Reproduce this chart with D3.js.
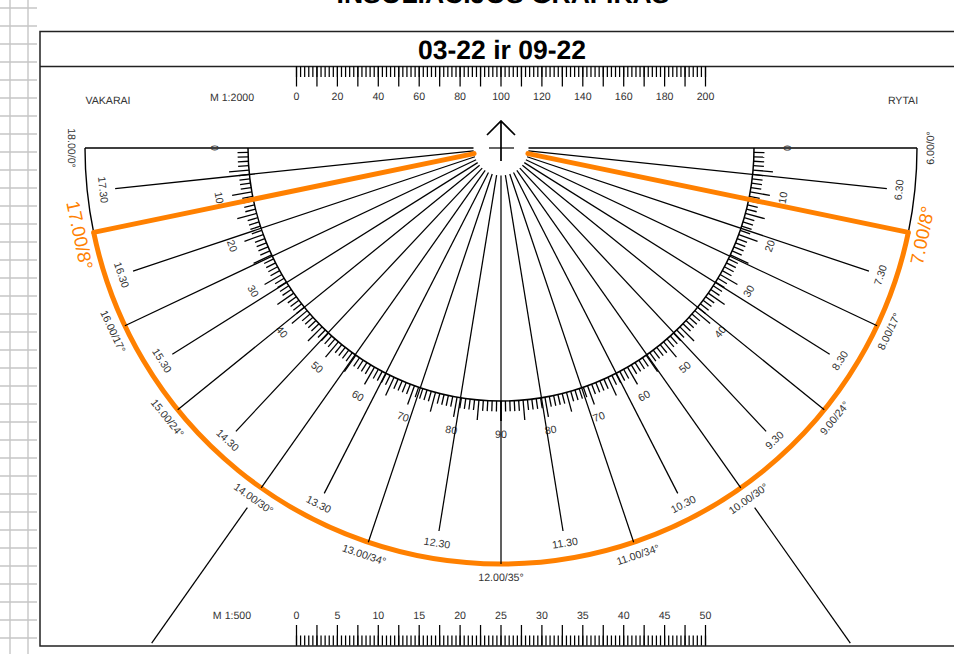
<!DOCTYPE html>
<html><head><meta charset="utf-8">
<script src="https://cdn.jsdelivr.net/npm/d3@7"></script>
<style>
html,body{margin:0;padding:0;background:#fff;overflow:hidden}
svg{display:block}
text{font-family:"Liberation Sans",Arial,sans-serif;text-rendering:geometricPrecision}
</style></head><body>
<svg id="c" width="954" height="654"></svg>
<script>
// Sun positions: clock label, bearing on the dial (deg from east, clockwise), altitude
const hourTimes  = ["6.00","7.00","8.00","9.00","10.00","11.00","12.00","13.00","14.00","15.00","16.00","17.00","18.00"];
const hourBearing= [0,11.7,25.3,39,54.8,71.4,90,108.6,125.2,141,154.7,168.3,180];
const hourAlt    = [0,8,17,24,30,34,35,34,30,24,17,8,0];
const halfTimes  = ["6.30","7.30","8.30","9.30","10.30","11.30","12.30","13.30","14.30","15.30","16.30","17.30"];
const halfBearing= [6,18.5,32.1,46.9,62.9,80.8,99.2,117.1,133.1,147.9,161.5,174];
const highlightTimes = ["7.00","17.00"];
const brokenTimes = ["10.00","14.00"];
const degreeLabels = [0,10,20,30,40,50,60,70,80,90];
const topScaleLabels = [0,20,40,60,80,100,120,140,160,180,200];
const bottomScaleLabels = [0,5,10,15,20,25,30,35,40,45,50];
const titleText = "INSOLIACIJOS GRAFIKAS";
const subtitleText = "03-22 ir 09-22";

const W=954,H=654,cx=501,cy=148;
const R={hole:27.5,inner:253,minor:263.5,major:273,deg:286,half:388,halfText:400,hourText:429,outer:416,brokenStart:440,brokenEnd:606};
const ORANGE="#ff8000",INK="#000",TXT="#333";
const FS=10.6;
const svg=d3.select("#c");
const angle=d3.scaleLinear().domain([0,180]).range([0,Math.PI]);
const px=(a,r)=>cx+r*Math.cos(angle(a));
const py=(a,r)=>cy+r*Math.sin(angle(a));
const textRot=a=> a<=90 ? a-90 : a+90-180; // mirror about the vertical axis

// side grid paper
const gridY=d3.scaleLinear().domain([0,35]).range([8,638]);
const g0=svg.append("g").attr("stroke","#c6c6c6").attr("stroke-width",1.4);
g0.selectAll("line.h").data(d3.range(0,36)).join("line").attr("x1",0).attr("x2",37).attr("y1",d=>gridY(d)).attr("y2",d=>gridY(d));
g0.selectAll("line.v").data([10,28]).join("line").attr("x1",d=>d).attr("x2",d=>d).attr("y1",0).attr("y2",H);

// frame
const f=svg.append("g").attr("stroke","#222").attr("fill","none");
f.append("path").attr("stroke-width",1.5).attr("d",`M${W},31.5H40V646H${W}`);
f.append("path").attr("stroke-width",1.3).attr("d",`M40,66.5H${W}`);

svg.append("text").attr("x",503).attr("y",3).attr("text-anchor","middle").attr("font-size",26.5).attr("font-weight","bold").text(titleText);
svg.append("text").attr("x",502).attr("y",59).attr("text-anchor","middle").attr("font-size",26.5).attr("font-weight","bold").text(subtitleText);

// rulers
const xTop=d3.scaleLinear().domain([0,200]).range([296,705]);
const xBot=d3.scaleLinear().domain([0,50]).range([296,705]);
function ruler(axisFn,scale,y,step,minorStep,lenMajor,lenMinor,labels){
  const gM=svg.append("g").attr("transform",`translate(0,${y})`)
    .call(axisFn(scale).tickValues(d3.range(scale.domain()[0],scale.domain()[1]+1e-6,minorStep)).tickSize(lenMinor).tickSizeOuter(0).tickFormat(""));
  const gL=svg.append("g").attr("transform",`translate(0,${y})`)
    .call(axisFn(scale).tickValues(d3.range(scale.domain()[0],scale.domain()[1]+1e-6,step)).tickSize(lenMajor).tickSizeOuter(0).tickPadding(6)
      .tickFormat(d=>labels.includes(d)?d:""));
  [gM,gL].forEach(g=>{g.select(".domain").remove();
    g.selectAll("line").attr("stroke",INK).attr("stroke-width",1.25);
    g.selectAll("text").attr("font-family",'"Liberation Sans",Arial,sans-serif').attr("font-size",FS).attr("fill",TXT);});
}
ruler(d3.axisBottom,xTop,66.5,10,2,20,10.5,topScaleLabels);
ruler(d3.axisTop,xBot,645.5,2.5,0.5,20.5,10,bottomScaleLabels);

// plain labels
[["VAKARAI",108,100],["M 1:2000",232,97],["RYTAI",903,100],["M 1:500",232,615]].forEach(([t,x,y])=>{
  svg.append("text").attr("x",x).attr("y",y).attr("dy","0.36em").attr("text-anchor","middle").attr("font-size",FS).attr("fill",TXT).text(t);
});

const arc=d3.arc();
const arcTo=(r,a0,a1)=>arc({innerRadius:r,outerRadius:r,startAngle:Math.PI/2+angle(a0),endAngle:Math.PI/2+angle(a1)});
const dial=svg.append("g").attr("transform",`translate(${cx},${cy})`).attr("fill","none");

// horizon
svg.append("path").attr("stroke",INK).attr("stroke-width",1.4).attr("fill","none")
  .attr("d",`M${px(180,R.outer)},${cy}H${px(180,R.hole)}M${px(0,R.hole)},${cy}H${px(0,R.outer)}`);
// inner scale arc
dial.append("path").attr("d",arcTo(R.inner,0,180)).attr("stroke",INK).attr("stroke-width",1.5);
// scale ticks both sides
const degs=d3.range(1,91);
[d=>d,d=>180-d].forEach(side=>{
  svg.append("g").selectAll("line").data(degs).join("line")
    .attr("x1",d=>px(side(d),R.inner)).attr("y1",d=>py(side(d),R.inner))
    .attr("x2",d=>px(side(d),d%5==0?R.major:R.minor)).attr("y2",d=>py(side(d),d%5==0?R.major:R.minor))
    .attr("stroke",INK).attr("stroke-width",1.3);
  svg.append("g").selectAll("text").data(degreeLabels.filter(d=>d<90||side(0)==0)).join("text")
    .attr("transform",d=>`translate(${px(side(d),R.deg)},${py(side(d),R.deg)}) rotate(${textRot(side(d))})`)
    .attr("text-anchor","middle").attr("dy","0.36em").attr("font-size",FS).attr("fill",TXT).text(d=>d);
});

// half-hour lines
svg.append("g").selectAll("line").data(halfBearing).join("line")
  .attr("x1",d=>px(d,R.hole)).attr("y1",d=>py(d,R.hole)).attr("x2",d=>px(d,R.half)).attr("y2",d=>py(d,R.half))
  .attr("stroke",INK).attr("stroke-width",1.25);
svg.append("g").selectAll("text").data(halfBearing).join("text")
  .attr("transform",d=>`translate(${px(d,R.halfText)},${py(d,R.halfText)}) rotate(${textRot(d)})`)
  .attr("text-anchor","middle").attr("dy","0.36em").attr("font-size",FS).attr("fill",TXT).text((d,i)=>halfTimes[i]);

// hour lines
const hours=hourTimes.map((t,i)=>({t,a:hourBearing[i],alt:hourAlt[i],hi:highlightTimes.includes(t),broken:brokenTimes.includes(t)}));
svg.append("g").selectAll("line").data(hours.filter(d=>d.alt>0&&!d.hi)).join("line")
  .attr("x1",d=>px(d.a,R.hole)).attr("y1",d=>py(d.a,R.hole)).attr("x2",d=>px(d.a,R.outer)).attr("y2",d=>py(d.a,R.outer))
  .attr("stroke",INK).attr("stroke-width",1.25);
svg.append("g").selectAll("line").data(hours.filter(d=>d.broken)).join("line")
  .attr("x1",d=>px(d.a,R.brokenStart)).attr("y1",d=>py(d.a,R.brokenStart)).attr("x2",d=>px(d.a,R.brokenEnd)).attr("y2",d=>py(d.a,R.brokenEnd))
  .attr("stroke",INK).attr("stroke-width",1.25);

// outer arc
const aHi=d3.extent(hours.filter(d=>d.hi),d=>d.a);
dial.append("path").attr("d",arcTo(R.outer,0,aHi[0])).attr("stroke",INK).attr("stroke-width",1.4);
dial.append("path").attr("d",arcTo(R.outer,aHi[1],180)).attr("stroke",INK).attr("stroke-width",1.4);
dial.append("path").attr("d",arcTo(R.outer,aHi[0],aHi[1])).attr("stroke",ORANGE).attr("stroke-width",5);
svg.append("g").selectAll("line").data(hours.filter(d=>d.hi)).join("line")
  .attr("x1",d=>px(d.a,R.hole)).attr("y1",d=>py(d.a,R.hole)).attr("x2",d=>px(d.a,R.outer)).attr("y2",d=>py(d.a,R.outer))
  .attr("stroke",ORANGE).attr("stroke-width",5).attr("stroke-linecap","round");

// hour labels
svg.append("g").selectAll("text").data(hours).join("text")
  .attr("transform",d=>{const r=d.hi?R.hourText+1:R.hourText;return `translate(${px(d.a,r)},${py(d.a,r)}) rotate(${textRot(d.a)})`;})
  .attr("text-anchor","middle").attr("dy","0.36em")
  .attr("font-size",d=>d.hi?18.6:FS).attr("fill",d=>d.hi?ORANGE:TXT)
  .text(d=>`${d.t}/${d.alt}°`);

// north arrow
svg.append("path").attr("fill","none").attr("stroke",INK).attr("stroke-width",1.7)
  .attr("d",`M487,135L${cx},121L515,135M${cx},121V161`);
svg.append("path").attr("fill","none").attr("stroke",INK).attr("stroke-width",1.2).attr("d",`M489,148H514`);
</script>
</body></html>
